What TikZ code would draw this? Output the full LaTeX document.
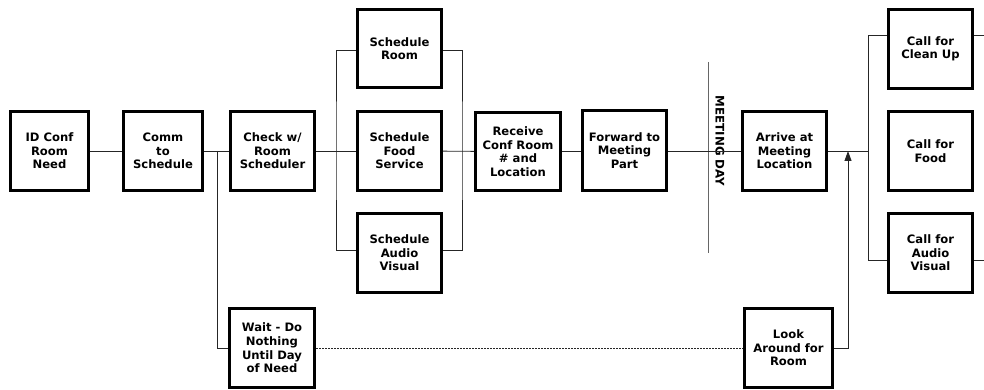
\documentclass[tikz,border=0pt]{standalone}
\usepackage{fontspec}
\setmainfont{DejaVu Sans}
\usetikzlibrary{arrows.meta}
\begin{document}
\begin{tikzpicture}[x=1pt,y=-1pt,
  stepbox/.style={draw=black,line width=2.6pt,fill=white,align=center,inner sep=0pt,
    font=\bfseries\fontsize{11.6}{13.6}\selectfont,
    minimum width=84.4pt,minimum height=79.4pt},
  link/.style={draw=black!85,line width=0.9pt},
  waitlink/.style={link,dash pattern=on 2pt off 1pt}]
\useasboundingbox (0,0) rectangle (984,390);

% main row
\node[stepbox,minimum width=78.4pt] (id)    at (49.5,151) {ID Conf\\Room\\Need};
\node[stepbox,minimum width=79.4pt] (comm)  at (163,151)  {Comm\\to\\Schedule};
\node[stepbox] (check) at (272.5,151) {Check w/\\Room\\Scheduler};

% scheduling block
\node[stepbox,minimum height=78.4pt] (sroom) at (399.5,48.5) {Schedule\\Room};
\node[stepbox] (sfood) at (399.5,151) {Schedule\\Food\\Service};
\node[stepbox] (sav)   at (399.5,253) {Schedule\\Audio\\Visual};

\node[stepbox,minimum width=85.4pt,minimum height=78.4pt] (recv) at (518,151.5) {Receive\\Conf Room\\\# and\\Location};
\node[stepbox,minimum height=80.4pt] (fwd) at (624.5,150.5) {Forward to\\Meeting\\Part};

% meeting day divider
\draw[draw=black!60,line width=1pt] (708,62) -- (708,253);
\node[rotate=-90,font=\bfseries\fontsize{11.8}{13}\selectfont,inner sep=0pt] (mday) at (720,141) {MEETING DAY};

\node[stepbox] (arrive) at (784.5,151) {Arrive at\\Meeting\\Location};

% calls on the day
\node[stepbox] (callcu)   at (930.5,49)  {Call for\\Clean Up};
\node[stepbox] (callfood) at (930.5,151) {Call for\\Food};
\node[stepbox] (callav)   at (930.5,253) {Call for\\Audio\\Visual};

% fallback path
\node[stepbox,minimum width=85.4pt] (wait) at (272,348) {Wait - Do\\Nothing\\Until Day\\of Need};
\node[stepbox,minimum width=88.4pt] (look) at (788.5,348) {Look\\Around for\\Room};

% junction points
\coordinate (jwait) at (217,151);
\coordinate (lb) at (336,151);
\coordinate (rb) at (462,151);
\coordinate (jarr) at (848,151);
\coordinate (jcall) at (868,151);
\coordinate (outcu) at (984,35);
\coordinate (outav) at (984,260);

% connectors
\draw[link] (id) -- (comm);
\draw[link] (comm) -- (check);
\draw[link] (jwait) |- (wait.west);
\draw[link] (check) -- (sfood);
\draw[link] (sroom.west |- 0,50) -| (lb) |- (sav.west |- 0,250);
\draw[link] (sroom.east |- 0,50) -| (rb) |- (sav.east |- 0,250);
\draw[link] (sfood) -- (recv);
\draw[link] (recv) -- (fwd.west |- recv);
\draw[link] (fwd.east |- arrive) -- (arrive);
\draw[link] (arrive) -- (jcall);
\draw[link] (callcu.west |- outcu) -| (jcall) |- (callav.west |- outav);
\draw[link] (callcu.east |- outcu) -- (outcu);
\draw[link] (callav.east |- outav) -- (outav);
\draw[waitlink] (wait) -- (look);
\draw[link,-{Triangle[length=10pt,width=7pt]}] (look.east) -| (jarr);
\end{tikzpicture}
\end{document}
